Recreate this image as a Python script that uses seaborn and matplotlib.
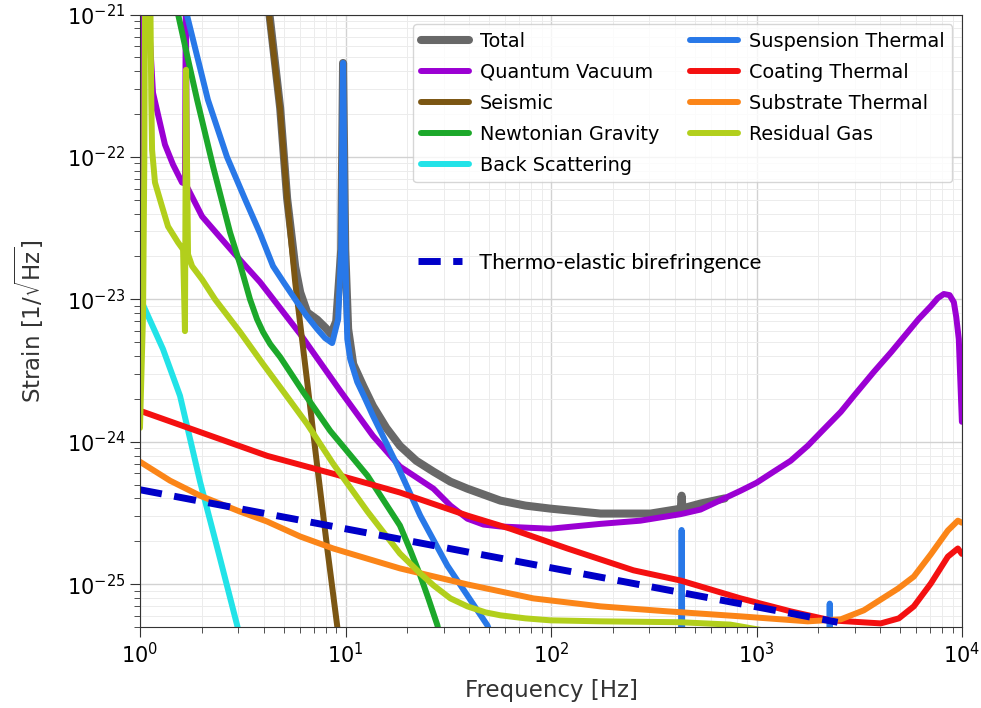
import matplotlib
matplotlib.use("Agg")
import matplotlib.pyplot as plt
import matplotlib.ticker as mticker
import seaborn as sns

plt.rcParams['lines.solid_capstyle'] = 'round'
plt.rcParams['font.family'] = ['DejaVu Sans']

# ---- data ----
total_f = [4.1, 4.25, 4.81, 5.20, 5.69, 6.02, 6.51, 7.28, 8.0, 8.5, 9.01, 9.53, 9.73, 9.97, 10.3, 10.9,
           12.2, 13.6, 15.8, 18.4, 22.1, 26.8, 32.4, 39.2, 56.7, 75.1, 99.3, 174, 305, 413, 428, 432,
           436, 534, 700]
total_s = [1.5e-21, 1.05e-21, 2.2e-22, 5.1e-23, 1.7e-23, 1.12e-23, 8.1e-24, 7.2e-24, 6.3e-24, 5.7e-24,
           7.0e-24, 2.24e-23, 4.57e-22, 2.24e-23, 6.2e-24, 3.51e-24, 2.46e-24, 1.78e-24, 1.25e-24,
           9.36e-25, 7.35e-25, 6.16e-25, 5.24e-25, 4.68e-25, 3.86e-25, 3.56e-25, 3.39e-25, 3.13e-25,
           3.13e-25, 3.36e-25, 3.38e-25, 4.18e-25, 3.40e-25, 3.68e-25, 4.0e-25]

qv_f = [1.0, 1.02, 1.07, 1.10, 1.157, 1.224, 1.323, 1.448, 1.602, 1.655, 1.672, 1.69, 2.005, 2.318,
        2.84, 3.84, 6.02, 9.44, 13.6, 18.4, 26.8, 32.4, 39.2, 46.9, 56.7, 99.3, 174, 272, 427, 534,
        837, 1000, 1211, 1466, 1774, 2085, 2570, 3000, 3718, 4520, 5445, 6140, 7046, 7620, 8150,
        8700, 9120, 9370, 9640, 9800, 9980]
qv_s = [2.86e-23, 2e-21, 3e-21, 1e-21, 2.82e-22, 1.98e-22, 1.22e-22, 8.83e-23, 6.61e-23, 6.5e-23,
        1.5e-21, 6.2e-23, 3.82e-23, 3.0e-23, 2.14e-23, 1.32e-23, 5.70e-24, 2.27e-24, 1.10e-24,
        6.7e-25, 4.68e-25, 3.56e-25, 2.88e-25, 2.62e-25, 2.54e-25, 2.45e-25, 2.65e-25, 2.79e-25,
        3.1e-25, 3.34e-25, 4.53e-25, 5.15e-25, 6.16e-25, 7.35e-25, 9.36e-25, 1.19e-24, 1.62e-24,
        2.13e-24, 3.09e-24, 4.26e-24, 5.89e-24, 7.26e-24, 8.95e-24, 1.02e-23, 1.09e-23, 1.07e-23,
        9.55e-24, 7.5e-24, 5.26e-24, 2.76e-24, 1.38e-24]

seis_f = [4.1, 4.25, 4.81, 5.20, 5.69, 6.51, 7.28, 8.15, 9.11, 9.3]
seis_s = [1.4e-21, 1.0e-21, 2.14e-22, 5.02e-23, 1.32e-23, 2.63e-24, 6.78e-25, 1.78e-25, 5.1e-26, 4.0e-26]

newt_f = [1.45, 1.497, 1.694, 1.896, 2.268, 2.743, 3.07, 3.43, 3.71, 3.97, 4.30, 4.81, 6.22, 8.43,
          12.8, 18.4, 20.6, 23.1, 25.3, 28.0, 29.6]
newt_s = [1.6e-21, 1.17e-21, 5.2e-22, 2.52e-22, 8.55e-23, 2.95e-23, 1.76e-23, 1.0e-23, 7.26e-24,
          5.89e-24, 4.85e-24, 3.93e-24, 2.24e-24, 1.19e-24, 5.77e-25, 2.58e-25, 1.75e-25, 1.15e-25,
          7.94e-26, 5.14e-26, 3.5e-26]

back_f = [1.0, 1.294, 1.566, 1.96, 2.453, 2.97, 3.07]
back_s = [1.02e-23, 4.47e-24, 2.10e-24, 5.24e-25, 1.51e-25, 5.14e-26, 4.2e-26]

susp_f = [1.64, 1.69, 2.14, 2.65, 3.25, 3.84, 4.44, 5.03, 5.69, 6.43, 7.28, 7.96, 8.61, 9.21, 9.53,
          9.73, 9.97, 10.2, 10.54, 11.4, 12.47, 13.6, 17.9, 23.1, 31.3, 49.0, 56.7, 200, 428, 432,
          436, 1000, 2250, 2270, 2290, 10000]
susp_s = [1.6e-21, 1.0e-21, 2.52e-22, 1.0e-22, 5.02e-23, 2.9e-23, 1.71e-23, 1.30e-23, 1.0e-23,
          7.74e-24, 6.18e-24, 5.34e-24, 4.93e-24, 7.26e-24, 2.24e-23, 4.57e-22, 2.24e-23, 5.26e-24,
          3.81e-24, 2.63e-24, 2.0e-24, 1.52e-24, 6.78e-25, 3.03e-25, 1.35e-25, 5.14e-26, 3.0e-26,
          2.5e-26, 2.3e-26, 2.4e-25, 2.3e-26, 2.0e-26, 1.8e-26, 7.3e-26, 1.8e-26, 1.5e-26]

coat_f = [1.0, 1.96, 4.16, 8.71, 18.4, 39.2, 63.4, 120, 252, 427, 837, 1466, 2296, 4020, 4925, 5825,
          7046, 8530, 9540, 9980]
coat_s = [1.65e-24, 1.17e-24, 7.96e-25, 5.96e-25, 4.40e-25, 3.03e-25, 2.45e-25, 1.78e-25, 1.25e-25,
          1.06e-25, 7.94e-26, 6.44e-26, 5.57e-26, 5.3e-26, 5.75e-26, 6.98e-26, 1.01e-25, 1.56e-25,
          1.78e-25, 1.63e-25]

sub_f = [1.0, 1.40, 1.96, 3.07, 4.16, 6.02, 8.71, 18.4, 39.2, 82.1, 174, 369, 837, 1774, 2570, 3327,
         4893, 5825, 7046, 8530, 9540, 9980]
sub_s = [7.23e-25, 5.33e-25, 4.18e-25, 3.23e-25, 2.75e-25, 2.16e-25, 1.78e-25, 1.29e-25, 9.95e-26,
         7.94e-26, 6.98e-26, 6.44e-26, 5.94e-26, 5.48e-26, 5.66e-26, 6.55e-26, 9.33e-26, 1.13e-25,
         1.62e-25, 2.38e-25, 2.79e-25, 2.7e-25]

gas_f = [1.0, 1.035, 1.05, 1.057, 1.07, 1.11, 1.125, 1.135, 1.145, 1.183, 1.280, 1.369, 1.531, 1.62,
         1.655, 1.675, 1.713, 1.793, 2.005, 2.318, 3.07, 3.97, 5.09, 6.51, 8.71, 12.8, 18.4, 23.1,
         26.8, 32.4, 39.2, 47.9, 56.7, 75.1, 99.3, 174, 426, 744, 1320, 10000]
gas_s = [1.25e-24, 8e-24, 1e-22, 1e-21, 5e-21, 5e-21, 1e-21, 2.5e-22, 1.12e-22, 6.61e-23, 4.49e-23,
         3.25e-23, 2.51e-23, 2.24e-23, 5.98e-24, 4.09e-22, 2.07e-23, 1.71e-23, 1.38e-23, 1.0e-23,
         5.89e-24, 3.51e-24, 2.16e-24, 1.33e-24, 7.0e-25, 3.23e-25, 1.64e-25, 1.19e-25, 9.8e-26,
         7.94e-26, 6.98e-26, 6.34e-26, 6.04e-26, 5.75e-26, 5.57e-26, 5.48e-26, 5.4e-26, 5.2e-26,
         4.5e-26, 3.5e-26]

te_f = [1.0, 2480]
te_s = [4.6e-25, 5.4e-26]

x_ticks = [1, 10, 100, 1000, 10000]
y_ticks = [1e-25, 1e-24, 1e-23, 1e-22, 1e-21]

series = [
    ("Total", total_f, total_s, "#686868", 5.8),
    ("Quantum Vacuum", qv_f, qv_s, "#9b00d3", 4.3),
    ("Seismic", seis_f, seis_s, "#7b5613", 4.3),
    ("Newtonian Gravity", newt_f, newt_s, "#1ca82a", 4.3),
    ("Back Scattering", back_f, back_s, "#22e3e8", 4.3),
    ("Suspension Thermal", susp_f, susp_s, "#2878e8", 4.3),
    ("Coating Thermal", coat_f, coat_s, "#f41010", 4.3),
    ("Substrate Thermal", sub_f, sub_s, "#fb8518", 4.3),
    ("Residual Gas", gas_f, gas_s, "#b2cf1c", 4.3),
]

fig = plt.figure(figsize=(9.81, 7.08), dpi=100)
ax = fig.add_axes([0.1427, 0.1144, 0.838, 0.8651])

lines = []
for name, f, s, c, lw in series:
    sns.lineplot(x=f, y=s, ax=ax, color=c, lw=lw, label=name, sort=False, estimator=None)
    lines.append(ax.lines[-1])

sns.lineplot(x=te_f, y=te_s, ax=ax, color="#0000c8", lw=5, sort=False, estimator=None,
             label="Thermo-elastic birefringence")
te_line = ax.lines[-1]
te_line.set_dashes((3.2, 1.8))
te_line.set_dash_capstyle('butt')

ax.set_xscale('log')
ax.set_yscale('log')
ax.set_xticks(x_ticks)
ax.set_yticks(y_ticks)
ax.xaxis.set_major_formatter(mticker.LogFormatterSciNotation())
ax.yaxis.set_major_formatter(mticker.LogFormatterSciNotation())
ax.xaxis.set_minor_formatter(mticker.NullFormatter())
ax.yaxis.set_minor_formatter(mticker.NullFormatter())
ax.set_xlim(1, 1e4)
ax.set_ylim(5e-26, 1e-21)

ax.set_axisbelow(True)
ax.grid(True, which='major', color='#d2d2d2', lw=1.0)
ax.grid(True, which='minor', color='#ececec', lw=0.7)
ax.tick_params(which='major', length=7, labelsize=15, color='#333333')
ax.tick_params(which='minor', length=4, color='#333333')
for sp in ax.spines.values():
    sp.set_color('#333333')

ax.set_xlabel("Frequency [Hz]", fontsize=16.5, color='#333333', labelpad=9)
ax.set_ylabel(r"Strain [$1/\sqrt{\mathrm{Hz}}$]", fontsize=16.5, color='#333333', labelpad=15)

leg1 = ax.legend(lines, [s[0] for s in series], loc='upper right', ncol=2, fontsize=13.9,
                 handlelength=2.5, handletextpad=0.55, columnspacing=1.6, labelspacing=0.62)
ax.add_artist(leg1)
leg2 = ax.legend([te_line], ["Thermo-elastic birefringence"], loc='center left',
                 bbox_to_anchor=(0.338, 0.594), frameon=False, borderpad=0, borderaxespad=0,
                 handlelength=2.0, handletextpad=0.75, prop={'family': 'Lato', 'size': 16})

fig.savefig("out.png", dpi=100, facecolor='white')
